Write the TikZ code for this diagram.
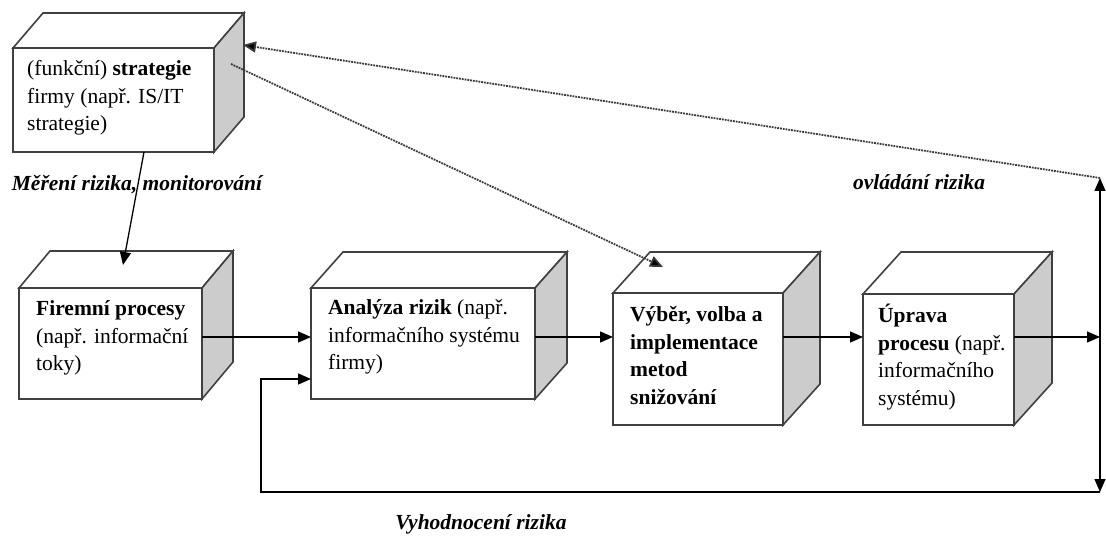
\documentclass[tikz,border=0pt]{standalone}
\usepackage{fontspec}
\setmainfont{Liberation Serif}
\usetikzlibrary{arrows.meta}

\definecolor{edge}{gray}{0.25}
\definecolor{sidegray}{gray}{0.80}
\definecolor{dotgray}{gray}{0.22}

\tikzset{
  front/.style={draw=edge, line width=1.6pt, fill=white, outer sep=0pt,
                inner sep=0pt, anchor=north west},
  faceline/.style={draw=edge, line width=1.6pt, line join=miter},
  boxtext/.style={anchor=base west, inner sep=0pt,
                  font=\fontsize{21.5}{27.5}\selectfont},
  lbl/.style={anchor=base, inner sep=0pt,
              font=\fontsize{21.5}{25}\selectfont\bfseries\itshape},
  conn/.style={line width=1.3pt, -{Triangle[length=13pt,width=11pt]}},
  dotconn/.style={draw=dotgray, line width=1.8pt, densely dotted,
                  -{Triangle[length=13pt,width=11pt,fill=black]}},
}

% front face as a named node, then the top face and the shaded side face
% args: name, x, y, width, height, depth-x, depth-y
\newcommand\drawcube[7]{%
  \node[front, minimum width=#4, minimum height=#5] (#1) at (#2,#3) {};
  \draw[faceline, fill=white] (#1.north west) -- ([shift={(#6,-#7)}]#1.north west)
     -- ([shift={(#6,-#7)}]#1.north east) -- (#1.north east) -- cycle;
  \draw[faceline, fill=sidegray] (#1.north east) -- ([shift={(#6,-#7)}]#1.north east)
     -- ([shift={(#6,-#7)}]#1.south east) -- (#1.south east) -- cycle;
}

\begin{document}
\begin{tikzpicture}[x=1pt, y=-1pt]
\useasboundingbox (0,0) rectangle (1106,537);

% boxes
\drawcube{strat}{13}{48}{201}{104}{30}{35}
\drawcube{proc}{19}{288}{183}{111}{31}{37}
\drawcube{anal}{311}{288}{224}{111}{32}{36}
\drawcube{vyber}{613}{293}{170}{132}{37}{41}
\drawcube{uprava}{863}{294}{151}{131}{38}{42}

% box texts
\node[boxtext] (stratText) at (27,76) {\parbox[t]{185pt}{\raggedright
  (funkční) \textbf{strategie}\\ firmy (např. IS/IT\\ strategie)}};
\node[boxtext] (procText) at (36,316) {\parbox[t]{165pt}{\raggedright
  \textbf{Firemní procesy}\\ (např. informační\\ toky)}};
\node[boxtext] (analText) at (328,315) {\parbox[t]{205pt}{\raggedright
  \textbf{Analýza rizik} (např.\\ informačního systému\\ firmy)}};
\node[boxtext] (vyberText) at (630,322) {\parbox[t]{150pt}{\raggedright\bfseries
  Výběr, volba a\\ implementace\\ metod\\ snižování}};
\node[boxtext] (upravaText) at (878,323) {\parbox[t]{136pt}{\raggedright
  \textbf{Úprava}\\ \textbf{procesu} (např.\\ informačního\\ systému)}};

% labels
\node[lbl] (lblMer) at (137,191) {Měření rizika, monitorování};
\node[lbl] (lblOvl) at (919,190) {ovládání rizika};
\node[lbl] (lblVyh) at (481,529) {Vyhodnocení rizika};

% auxiliary points
\coordinate (row) at (0,337);
\coordinate (fbRow) at (0,379);
\coordinate (jR) at (1100,337);
\coordinate (rTop) at (1100,178);
\coordinate (rBot) at (1100,492);
\coordinate (fbL) at (261,492);
\coordinate (procTop) at (123,265);
\coordinate (stratSide) at (243,45);
\coordinate (stratSide2) at (231,64);
\coordinate (vyberTop) at (663,267);

% main flow
\draw[conn] ([xshift=131pt]strat.south west) -- (procTop);
\draw[conn] (proc.east |- row) -- (anal.west |- row);
\draw[conn] (anal.east |- row) -- (vyber.west |- row);
\draw[conn] (vyber.east |- row) -- (uprava.west |- row);
\draw[conn] (uprava.east |- row) -- (jR);
\draw[conn] (jR) -- (rTop);
\draw[conn] (jR) -- (rBot);

% feedback loop
\draw[conn] (rBot) -- (fbL) |- (anal.west |- fbRow);

% dotted control links
\draw[dotconn] (rTop) -- (stratSide);
\draw[dotconn] (stratSide2) -- (vyberTop);
\end{tikzpicture}
\end{document}
